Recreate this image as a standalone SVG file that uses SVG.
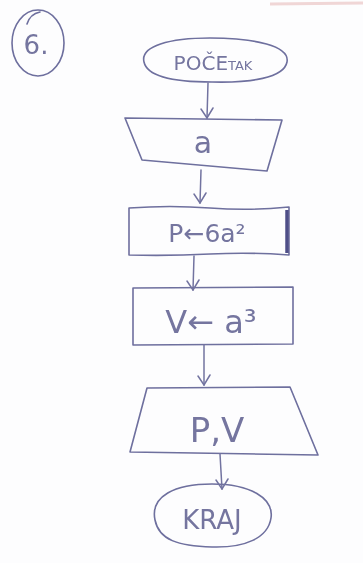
<svg xmlns="http://www.w3.org/2000/svg" width="363" height="563" viewBox="0 0 363 563">
<style>
.s{fill:none;stroke:#6e6f9e;stroke-width:1.6;stroke-linecap:round;stroke-linejoin:round}
.t{font-family:"DejaVu Sans","Liberation Sans",sans-serif;fill:#74759f;text-anchor:middle}
.c{fill:none;stroke:#7273a0;stroke-width:1.5;stroke-linecap:round;stroke-linejoin:round}
</style>
<defs>
<marker id="ah2" viewBox="0 0 14 14" refX="7" refY="13" markerWidth="14" markerHeight="14" markerUnits="userSpaceOnUse" orient="0">
<path d="M1 4 L7 13 L13 3" fill="none" stroke="#7273a0" stroke-width="1.5" stroke-linecap="round"/>
</marker>
<filter id="soft"><feGaussianBlur stdDeviation="0.5"/></filter>
</defs>
<rect width="363" height="563" fill="#fdfdfe"/>
<line x1="270" y1="4" x2="363" y2="3" stroke="#f0d6d6" stroke-width="3"/>
<g filter="url(#soft)">
<g id="label6">
<ellipse class="s" cx="38" cy="43" rx="26" ry="33"/>
<path class="s" d="M40 12 Q30 14 27 24"/>
<text class="t" x="36" y="54" font-size="26">6.</text>
</g>
<g id="start">
<path class="s" d="M144 62 C140 46 170 38 210 38 C255 38 290 46 287 62 C284 78 250 83 212 82 C172 82 147 76 144 62 Z"/>
<text class="t" x="213" y="70" font-size="20">POČE<tspan font-size="13">TAK</tspan></text>
</g>
<g id="input">
<path class="s" d="M125 118 L282 120 L267 171 L142 160 Z"/>
<text class="t" x="203" y="153" font-size="30">a</text>
</g>
<g id="calcP">
<path class="s" d="M129 208 Q170 205 210 208 Q250 211 289 207 L289 255 Q250 252 210 254 Q170 256 129 255 Z"/>
<path d="M287 210 L287 253" stroke="#505088" stroke-width="3.5" fill="none"/>
<text class="t" x="207" y="242" font-size="25">P←6a²</text>
</g>
<g id="calcV">
<path class="s" d="M133 288 L293 287 L293 344 L133 345 Z"/>
<text class="t" x="211" y="333" font-size="32">V← a³</text>
</g>
<g id="output">
<path class="s" d="M147 388 L290 387 L318 455 L130 452 Z"/>
<text class="t" x="217" y="442" font-size="34">P,V</text>
</g>
<g id="end">
<path class="s" d="M155 520 C150 496 175 484 212 484 C250 484 274 498 271 518 C268 538 245 548 212 547 C178 546 159 540 155 520 Z"/>
<text class="t" x="212" y="529" font-size="26">KRAJ</text>
</g>
<g id="connectors">
<path class="c" d="M208 83 L207 118" marker-end="url(#ah2)"/>
<path class="c" d="M201 170 L200 203" marker-end="url(#ah2)"/>
<path class="c" d="M194 256 L193 290" marker-end="url(#ah2)"/>
<path class="c" d="M204 345 L204 385" marker-end="url(#ah2)"/>
<path class="c" d="M220 454 L222 489" marker-end="url(#ah2)"/>
</g>
</g>
</svg>
